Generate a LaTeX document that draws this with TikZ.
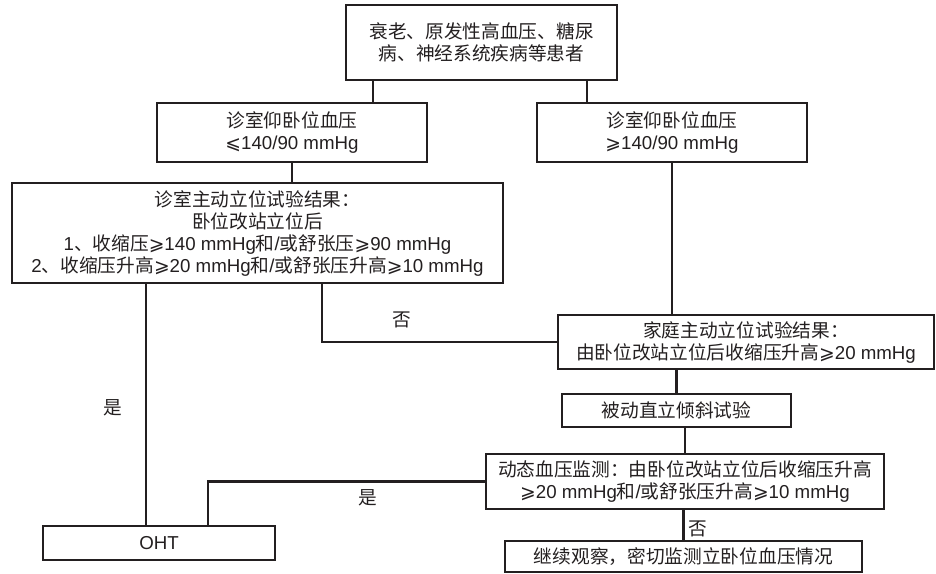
\documentclass[tikz,border=0pt]{standalone}
\usepackage{fontspec}
\setmainfont{Liberation Sans}
\newfontfamily\zh{Noto Sans CJK SC}
\newfontfamily\sym{DejaVu Sans}
\usetikzlibrary{positioning}
\definecolor{ink}{HTML}{231F20}

\begin{document}
\begin{tikzpicture}[
        x=1pt, y=-1pt,
        box/.style={draw=ink, line width=2.5pt, rectangle, inner sep=0pt, align=center, text=ink, font=\fontsize{18.7}{22}\selectfont},
        line/.style={draw=ink, line width=2.5pt},
        lbl/.style={text=ink, inner sep=0pt, font=\fontsize{18.7}{22}\selectfont\zh},
    ]
        \useasboundingbox (0,0) rectangle (936,573);

        \node[box, minimum width=271pt, minimum height=75pt] (patients) at (481.5,42.5) {\zh 衰老、原发性高血压、糖尿\\\zh 病、神经系统疾病等患者};
        \node[box, minimum width=270pt, minimum height=59pt] (low) at (292,132.5) {{\zh 诊室仰卧位血压}\\{\sym ⩽}140/90 mmHg};
        \node[box, minimum width=270pt, minimum height=59pt] (high) at (672,132.5) {{\zh 诊室仰卧位血压}\\{\sym ⩾}140/90 mmHg};
        \node[box, minimum width=491pt, minimum height=100pt] (clinic) at (257.5,233) {{\zh 诊室主动立位试验结果：}\\{\zh 卧位改站立位后}\\1{\zh 、收缩压}{\sym ⩾}140 mmHg{\zh 和}/{\zh 或舒张压}{\sym ⩾}90 mmHg\\2{\zh 、收缩压升高}{\sym ⩾}20 mmHg{\zh 和}/{\zh 或舒张压升高}{\sym ⩾}10 mmHg};
        \node[box, minimum width=376pt, minimum height=54pt] (home) at (746,342) {{\zh 家庭主动立位试验结果：}\\{\zh 由卧位改站立位后收缩压升高}{\sym ⩾}20 mmHg};
        \node[box, minimum width=229pt, minimum height=33pt] (tilt) at (676.5,410.5) {\zh 被动直立倾斜试验};
        \node[box, minimum width=398pt, minimum height=55pt] (abpm) at (685,481.5) {{\zh 动态血压监测：由卧位改站立位后收缩压升高}\\{\sym ⩾}20 mmHg{\zh 和}/{\zh 或舒张压升高}{\sym ⩾}10 mmHg};
        \node[box, minimum width=357pt, minimum height=31pt] (observe) at (683.5,556.5) {\zh 继续观察，密切监测立卧位血压情况};
        \node[box, minimum width=232pt, minimum height=34pt] (oht) at (159,543) {OHT};

        \coordinate (splitL) at (373,0);
        \coordinate (splitR) at (587,0);
        \coordinate (yesA) at (146,0);
        \coordinate (noA) at (322,0);
        \coordinate (yesB) at (208,0);

        \draw[line] (patients.south -| splitL) -- (low.north -| splitL);
        \draw[line] (patients.south -| splitR) -- (high.north -| splitR);
        \draw[line] (low.south) -- (low.south |- clinic.north);
        \draw[line] (high.south) -- (high.south |- home.north);
        \draw[line] (clinic.south -| yesA) -- (oht.north -| yesA);
        \draw[line] (clinic.south -| noA) |- (home.west);
        \draw[line] (home.south -| tilt.north) -- (tilt.north);
        \draw[line] (tilt.south -| abpm.north) -- (abpm.north);
        \draw[line] (abpm.west) -| (oht.north -| yesB);
        \draw[line] (abpm.south -| observe.north) -- (observe.north);

        \node[lbl] (yes1) at (113,408) {是};
        \node[lbl] (no1) at (402,320) {否};
        \node[lbl] (yes2) at (368,498) {是};
        \node[lbl] (no2) at (698,529) {否};
    \end{tikzpicture}
\end{document}
